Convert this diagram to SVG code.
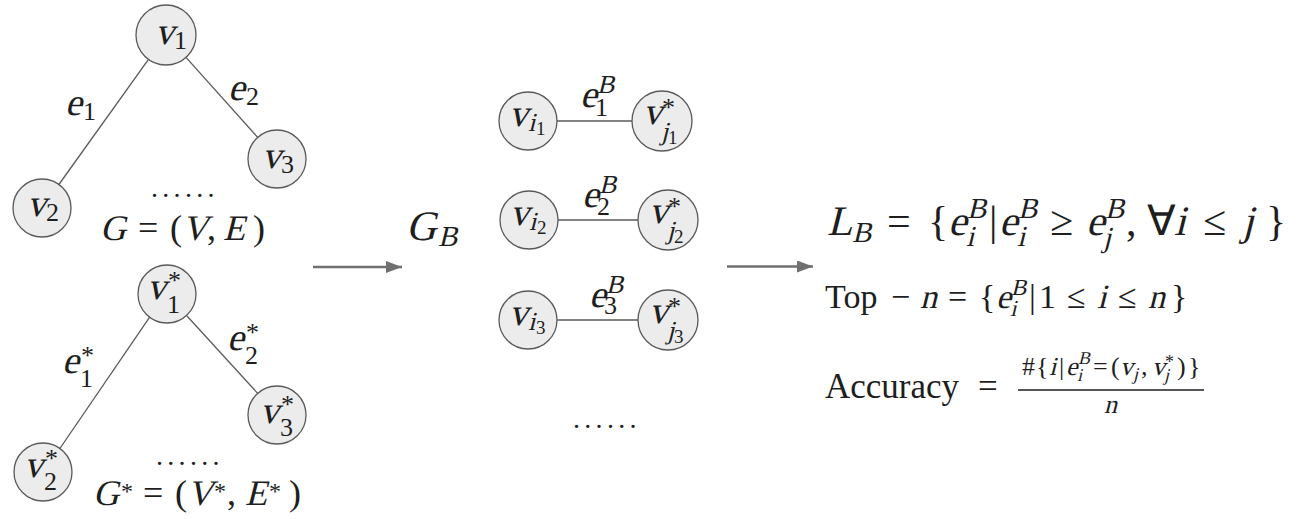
<svg xmlns="http://www.w3.org/2000/svg" width="1303" height="519" viewBox="0 0 1303 519">
<style>
.m{font-family:"Liberation Serif","Times New Roman",serif;fill:#1e1e1e}
.L{font-size:38px}
.s{font-size:26px}
.ss{font-size:19px}
.nd{fill:#ececec;stroke:#5a5a5a;stroke-width:1.3}
.ed{stroke:#5a5a5a;stroke-width:1.3;fill:none}
.ar{stroke:#707070;stroke-width:2.5;fill:none}
.dots{font-size:28px;letter-spacing:4.3px}
</style>
<defs>
<marker id="ah" viewBox="0 0 10 10" refX="10" refY="5" markerWidth="16" markerHeight="12" markerUnits="userSpaceOnUse" orient="auto" preserveAspectRatio="none"><path d="M0,0 L10,5 L0,10 z" fill="#707070"/></marker>
</defs>
<rect width="1303" height="519" fill="#ffffff"/>

<g id="connectors">
<line class="ed" x1="148.5" y1="59.4" x2="58.9" y2="184.5"/>
<line class="ed" x1="186" y1="57.4" x2="257.7" y2="137.4"/>
<line class="ed" x1="149.5" y1="317.4" x2="59.9" y2="448.5"/>
<line class="ed" x1="187" y1="316" x2="257.7" y2="393.4"/>
<line class="ed" x1="557" y1="121" x2="632" y2="121"/>
<line class="ed" x1="558" y1="220" x2="638" y2="220"/>
<line class="ed" x1="557" y1="320" x2="638" y2="320"/>
<line class="ar" x1="313" y1="267" x2="402" y2="267" marker-end="url(#ah)"/>
<line class="ar" x1="727" y1="266.5" x2="813" y2="266.5" marker-end="url(#ah)"/>
</g>

<g id="edge-labels" class="m">
<text class="L" transform="translate(65 115) skewX(-14)">e</text><text class="s" x="83" y="120">1</text>
<text class="L" transform="translate(228 100) skewX(-14)">e</text><text class="s" x="246" y="105">2</text>
<text class="L" transform="translate(62 373) skewX(-14)">e</text><text class="s" x="81" y="364">*</text><text class="s" x="80" y="387">1</text>
<text class="L" transform="translate(227 350) skewX(-14)">e</text><text class="s" x="246" y="341">*</text><text class="s" x="245" y="364">2</text>
<text class="L" transform="translate(580 107) skewX(-14)">e</text><text class="s" transform="translate(597 93) skewX(-14)">B</text><text class="s" x="595" y="116">1</text>
<text class="L" transform="translate(582 207) skewX(-14)">e</text><text class="s" transform="translate(599 193) skewX(-14)">B</text><text class="s" x="597" y="215">2</text>
<text class="L" transform="translate(589 307) skewX(-14)">e</text><text class="s" transform="translate(606 293) skewX(-14)">B</text><text class="s" x="604" y="314">3</text>
</g>

<g id="v1" class="m"><circle class="nd" cx="166" cy="35" r="30"/><text class="L" transform="translate(155 44) skewX(-14)">v</text><text class="s" x="174" y="49">1</text></g>
<g id="v2" class="m"><circle class="nd" cx="42" cy="208" r="29"/><text class="L" transform="translate(27 216) skewX(-14)">v</text><text class="s" x="46" y="221">2</text></g>
<g id="v3" class="m"><circle class="nd" cx="277" cy="159" r="29"/><text class="L" transform="translate(262 168) skewX(-14)">v</text><text class="s" x="281" y="173">3</text></g>
<g id="dots-top" class="m"><text class="dots" x="151" y="197">......</text></g>
<g id="G" class="m" font-size="36">
<text transform="translate(100 240) skewX(-14)">G</text><text x="138" y="240">=</text><text x="170" y="240">(</text><text transform="translate(182 240) skewX(-14)">V</text><text x="207" y="240">,</text><text transform="translate(223 240) skewX(-14)">E</text><text x="253" y="240">)</text>
</g>

<g id="v1s" class="m"><circle class="nd" cx="167" cy="294" r="29"/><text class="L" transform="translate(147 299) skewX(-14)">v</text><text class="s" x="168" y="289">*</text><text class="s" x="167" y="313">1</text></g>
<g id="v2s" class="m"><circle class="nd" cx="43" cy="472" r="29"/><text class="L" transform="translate(24 477) skewX(-14)">v</text><text class="s" x="45" y="467">*</text><text class="s" x="44" y="490">2</text></g>
<g id="v3s" class="m"><circle class="nd" cx="277" cy="415" r="29"/><text class="L" transform="translate(260 423) skewX(-14)">v</text><text class="s" x="281" y="413">*</text><text class="s" x="280" y="436">3</text></g>
<g id="dots-bottom" class="m"><text class="dots" x="156" y="465">......</text></g>
<g id="Gs" class="m" font-size="36">
<text transform="translate(93 505) skewX(-14)">G</text><text x="121" y="499" font-size="24">*</text><text x="143" y="505">=</text><text x="175" y="505">(</text><text transform="translate(187 505) skewX(-14)">V</text><text x="214" y="499" font-size="24">*</text><text x="227" y="505">,</text><text transform="translate(245 505) skewX(-14)">E</text><text x="269" y="499" font-size="24">*</text><text x="289" y="505">)</text>
</g>

<g id="GB" class="m"><text font-size="42" transform="translate(406 240) skewX(-14)">G</text><text font-size="29" transform="translate(438 246) skewX(-14)">B</text></g>

<g id="vi1" class="m"><circle class="nd" cx="528" cy="121" r="29"/><text class="L" transform="translate(509 126) skewX(-14)">v</text><text class="s" transform="translate(528 131) skewX(-14)">i</text><text class="ss" x="536" y="135">1</text></g>
<g id="vj1" class="m"><circle class="nd" cx="662" cy="121" r="30"/><text class="L" transform="translate(643 124) skewX(-14)">v</text><text class="s" x="662" y="116">*</text><text class="s" transform="translate(661 140) skewX(-14)">j</text><text class="ss" x="668" y="144">1</text></g>
<g id="vi2" class="m"><circle class="nd" cx="529" cy="220" r="29"/><text class="L" transform="translate(510 225) skewX(-14)">v</text><text class="s" transform="translate(529 230) skewX(-14)">i</text><text class="ss" x="537" y="234">2</text></g>
<g id="vj2" class="m"><circle class="nd" cx="668" cy="220" r="30"/><text class="L" transform="translate(649 223) skewX(-14)">v</text><text class="s" x="668" y="215">*</text><text class="s" transform="translate(667 239) skewX(-14)">j</text><text class="ss" x="674" y="243">2</text></g>
<g id="vi3" class="m"><circle class="nd" cx="528" cy="320" r="29"/><text class="L" transform="translate(509 325) skewX(-14)">v</text><text class="s" transform="translate(528 330) skewX(-14)">i</text><text class="ss" x="536" y="334">3</text></g>
<g id="vj3" class="m"><circle class="nd" cx="668" cy="320" r="30"/><text class="L" transform="translate(649 323) skewX(-14)">v</text><text class="s" x="668" y="315">*</text><text class="s" transform="translate(667 339) skewX(-14)">j</text><text class="ss" x="674" y="343">3</text></g>
<g id="dots-mid" class="m"><text class="dots" x="573" y="428">......</text></g>

<g id="LB" class="m" font-size="42">
<text transform="translate(827 235) skewX(-14)">L</text><text font-size="29" transform="translate(852 242) skewX(-14)">B</text>
<text x="887" y="235">=</text><text x="928" y="235">{</text>
<text transform="translate(948 235) skewX(-14)">e</text><text font-size="29" transform="translate(967 218) skewX(-14)">B</text><text font-size="29" transform="translate(966 246) skewX(-14)">i</text>
<text x="989" y="235">|</text>
<text transform="translate(999 235) skewX(-14)">e</text><text font-size="29" transform="translate(1018 218) skewX(-14)">B</text><text font-size="29" transform="translate(1017 246) skewX(-14)">i</text>
<text x="1050" y="235">≥</text>
<text transform="translate(1086 235) skewX(-14)">e</text><text font-size="29" transform="translate(1105 218) skewX(-14)">B</text><text font-size="29" transform="translate(1103 247) skewX(-14)">j</text>
<text x="1126" y="235">,</text><text x="1147" y="235">∀</text><text transform="translate(1174 235) skewX(-14)">i</text>
<text x="1203" y="235">≤</text><text transform="translate(1242 235) skewX(-14)">j</text><text x="1266" y="235">}</text>
</g>

<g id="TopN" class="m" font-size="34">
<text x="825" y="308">Top</text><text x="891" y="308">−</text><text transform="translate(920 308) skewX(-14)">n</text><text x="948" y="308">=</text><text x="979" y="308">{</text>
<text transform="translate(996 308) skewX(-14)">e</text><text font-size="23" transform="translate(1011 295) skewX(-14)">B</text><text font-size="23" transform="translate(1010 316) skewX(-14)">i</text>
<text x="1029" y="308">|</text><text x="1039" y="308">1</text><text x="1067" y="308">≤</text><text transform="translate(1097 308) skewX(-14)">i</text><text x="1118" y="308">≤</text><text transform="translate(1148 308) skewX(-14)">n</text><text x="1171" y="308">}</text>
</g>

<g id="Accuracy" class="m">
<text x="825" y="398" font-size="35">Accuracy</text>
<text x="978" y="398" font-size="35">=</text>
<line x1="1018" y1="390" x2="1204" y2="390" stroke="#1e1e1e" stroke-width="1.4"/>
<g font-size="26">
<text x="1022" y="375">#</text><text x="1036" y="375">{</text><text transform="translate(1049 375) skewX(-14)">i</text><text x="1059" y="375">|</text>
<text transform="translate(1066 375) skewX(-14)">e</text><text font-size="18" transform="translate(1078 364) skewX(-14)">B</text><text font-size="18" transform="translate(1077 381) skewX(-14)">i</text>
<text x="1093" y="375">=</text><text x="1111" y="375">(</text><text transform="translate(1120 375) skewX(-14)">v</text><text font-size="18" transform="translate(1133 380) skewX(-14)">j</text>
<text x="1141" y="375">,</text><text transform="translate(1152 375) skewX(-14)">v</text><text font-size="18" x="1165" y="368">*</text><text font-size="18" transform="translate(1164 381) skewX(-14)">j</text>
<text x="1177" y="375">)</text><text x="1188" y="375">}</text>
</g>
<text font-size="26" transform="translate(1104 413) skewX(-14)">n</text>
</g>
</svg>
